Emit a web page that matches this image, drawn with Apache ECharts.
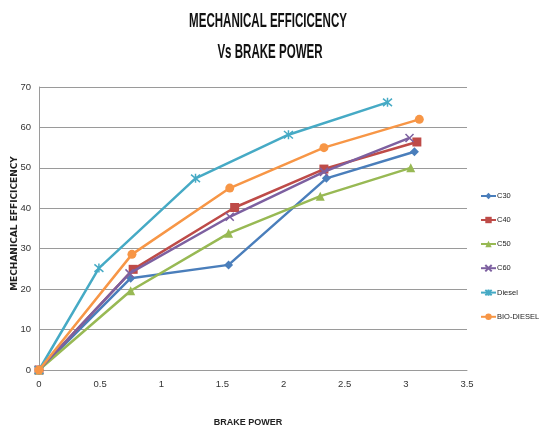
<!DOCTYPE html>
<html>
<head>
<meta charset="utf-8">
<script src="https://cdn.jsdelivr.net/npm/echarts@6/dist/echarts.min.js"></script>
<style>html,body{margin:0;padding:0;background:#fff}#c{width:539px;height:429px}</style>
</head>
<body>
<div id="c"></div>
<script>
var seriesNames = ['C30', 'C40', 'C50', 'C60', 'Diesel', 'BIO-DIESEL'];
var c30X = [0, 0.75, 1.55, 2.35, 3.07];
var c30Y = [0, 22.7, 26, 47.4, 54];
var c40X = [0, 0.77, 1.6, 2.33, 3.09];
var c40Y = [0, 24.9, 40.2, 49.7, 56.4];
var c50X = [0, 0.75, 1.55, 2.3, 3.04];
var c50Y = [0, 19.6, 33.8, 43, 50];
var c60X = [0, 0.74, 1.56, 2.33, 3.03];
var c60Y = [0, 23.9, 37.9, 49, 57.4];
var dieselX = [0, 0.49, 1.28, 2.04, 2.85];
var dieselY = [0, 25.2, 47.4, 58.2, 66.2];
var bioX = [0, 0.76, 1.56, 2.33, 3.11];
var bioY = [0, 28.6, 45, 55, 62];
var xTicks = [0, 0.5, 1, 1.5, 2, 2.5, 3, 3.5];
var yTicks = [0, 10, 20, 30, 40, 50, 60, 70];
var titleLines = ['MECHANICAL EFFICICENCY', 'Vs BRAKE POWER'];

var FONT = "'Liberation Sans','Noto Sans',sans-serif";
var colors = ['#4A7EBB', '#BE4B48', '#98B954', '#7D60A0', '#46AAC5', '#F79646'];
var XPATH = 'path://M0,0L10,10M10,0L0,10';
var STAR = 'path://M0,0L10,10M10,0L0,10M5,-1L5,11';
var symbols = ['diamond', 'rect', 'triangle', XPATH, STAR, 'circle'];
var sizes = [9, 9, 9, 8, 9, 9];
var xs = [c30X, c40X, c50X, c60X, dieselX, bioX];
var ys = [c30Y, c40Y, c50Y, c60Y, dieselY, bioY];

function pairs(a, b) { return a.map(function (v, i) { return [v, b[i]]; }); }

var series = seriesNames.map(function (n, i) {
  var stroked = (i === 3 || i === 4);
  return {
    name: n, type: 'line', data: pairs(xs[i], ys[i]),
    symbol: symbols[i], symbolSize: sizes[i], showSymbol: true,
    lineStyle: { color: colors[i], width: 2.5 },
    itemStyle: stroked ? { color: 'rgba(0,0,0,0)', borderColor: colors[i], borderWidth: 1.5 }
                       : { color: colors[i], borderColor: colors[i], borderWidth: 0 },
    z: 2 + i
  };
});

var chart = echarts.init(document.getElementById('c'));
chart.setOption({
  animation: false,
  backgroundColor: '#fff',
  graphic: [
    { type: 'text', x: 268, y: 21, scaleX: 0.55, style: { text: titleLines[0], textAlign: 'center', textVerticalAlign: 'middle', font: "bold 21px 'Liberation Sans', sans-serif", fill: '#111' } },
    { type: 'text', x: 270, y: 52, scaleX: 0.55, style: { text: titleLines[1], textAlign: 'center', textVerticalAlign: 'middle', font: "bold 21px 'Liberation Sans', sans-serif", fill: '#111' } }
  ],
  legend: {
    orient: 'vertical', left: 475, top: 187, itemGap: 16,
    itemWidth: 15, itemHeight: 8,
    textStyle: { fontFamily: FONT, fontSize: 7.5, color: '#222', padding: [0, 0, 0, -4] },
    data: seriesNames
  },
  grid: { left: 39, right: 72, top: 87, bottom: 59, containLabel: false, outerBoundsMode: 'none' },
  xAxis: {
    type: 'value', min: xTicks[0], max: xTicks[xTicks.length - 1], interval: 0.5,
    name: 'BRAKE POWER', nameLocation: 'middle', nameGap: 48, nameMoveOverlap: false,
    nameTextStyle: { fontFamily: FONT, fontWeight: 'bold', fontSize: 9, color: '#222', padding: [0, 10, 0, 0] },
    axisLine: { lineStyle: { color: '#9a9a9a', width: 1 } },
    axisTick: { show: false },
    splitLine: { show: false },
    axisLabel: { fontFamily: FONT, fontSize: 9.5, color: '#333', margin: 9 }
  },
  yAxis: {
    type: 'value', min: yTicks[0], max: yTicks[yTicks.length - 1], interval: 10,
    name: 'MECHANICAL EFFICICENCY', nameLocation: 'middle', nameGap: 20, nameRotate: 90, nameMoveOverlap: false,
    nameTextStyle: { fontFamily: "'DejaVu Sans','Noto Sans',sans-serif", fontWeight: 'bold', fontSize: 9, color: '#222', padding: [0, 0, 0, 10] },
    axisLine: { show: true, lineStyle: { color: '#9a9a9a', width: 1 } },
    axisTick: { show: false },
    splitLine: { lineStyle: { color: '#9a9a9a', width: 1 } },
    axisLabel: { fontFamily: FONT, fontSize: 9.5, color: '#333', margin: 8 }
  },
  series: series
});
</script>
</body>
</html>
